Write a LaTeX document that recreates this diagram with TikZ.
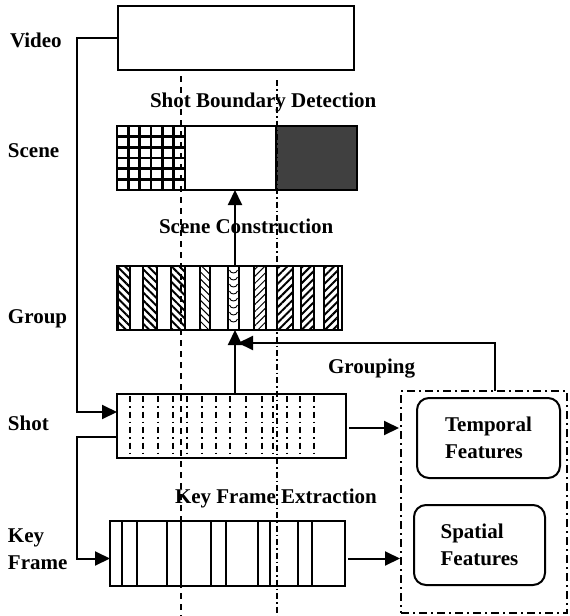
\documentclass[tikz,border=0pt]{standalone}
\usepackage{fontspec}
\setmainfont{Liberation Serif}
\usetikzlibrary{arrows.meta,patterns.meta,calc}
\begin{document}
\begin{tikzpicture}[x=1pt,y=-1pt,
  box/.style={draw,line width=2pt,inner sep=0pt,outer sep=0pt},
  lbl/.style={font=\fontsize{21}{27}\selectfont\bfseries,inner sep=0pt,outer sep=0pt,anchor=base west,align=left},
  arr/.style={line width=2pt,-{Triangle[length=15pt,width=14pt]}},
  conn/.style={line width=2pt},
  rbox/.style={draw,line width=2pt,rounded corners=12pt,inner sep=0pt,outer sep=0pt,align=left,font=\fontsize{21}{27}\selectfont\bfseries},
  dashbox/.style={draw,line width=2pt,inner sep=0pt,outer sep=0pt,dash pattern=on 8pt off 4pt on 2pt off 4pt},
  guideA/.style={line width=1.3pt,dash pattern=on 6pt off 5pt},
  guideB/.style={line width=1.3pt,dash pattern=on 6pt off 3pt on 1.5pt off 3pt},
  shotline/.style={line width=1.4pt,dash pattern=on 6pt off 4pt on 1.5pt off 4pt},
  keyline/.style={line width=1.3pt},
  hatchA/.style={pattern={Lines[angle=-45,distance=5.5pt,line width=2pt]}},
  hatchB/.style={pattern={Lines[angle=-45,distance=5pt,line width=1pt]}},
  hatchC/.style={pattern={Lines[angle=45,distance=5pt,line width=1pt]}},
  hatchD/.style={pattern={Lines[angle=45,distance=5.5pt,line width=2pt]}},
  stripe/.style={draw,line width=1.3pt}
]
\useasboundingbox (0,0) rectangle (570,616);

% ---------- Scene box contents ----------
\foreach \k in {0,...,6} {
  \draw[line width=2.8pt] (117+\k*11.33,126) -- (117+\k*11.33,190);
  \draw[line width=2.8pt] (117,126+\k*10.67) -- (185,126+\k*10.67);
}
\fill[black!75] (276,126) rectangle (357,190);
\draw[line width=2pt] (185,126) -- (185,190);
\draw[line width=2pt] (276,126) -- (276,190);

% ---------- Group box contents ----------
\foreach \a/\b in {118/130,143/157,171/185}
  \draw[stripe,hatchA] (\a,266) rectangle (\b,330);
\draw[stripe,hatchB] (200,266) rectangle (210,330);
\draw[stripe] (228,266) rectangle (239,330);
\foreach \y in {270,277,...,322}
  \draw[line width=0.9pt] (229.5,\y) .. controls (230.5,\y+4) and (236.5,\y+4) .. (237.5,\y);
\draw[stripe,hatchC] (254,266) rectangle (266,330);
\foreach \a/\b in {277/293,301/314,324/338}
  \draw[stripe,hatchD] (\a,266) rectangle (\b,330);

% ---------- Shot box contents ----------
\foreach \x in {130,143,158,173,187,202,216,230,246,262,273,287,300,314}
  \draw[shotline] (\x,396) -- (\x,458);

% ---------- Key frame box contents ----------
\foreach \x in {122,137,167,181,211,226,258,270,298,312}
  \draw[keyline] (\x,521) -- (\x,586);

% ---------- main boxes ----------
\node[box,minimum width=236,minimum height=64] (video) at (236,38) {};
\node[box,minimum width=240,minimum height=64] (scene) at (237,158) {};
\node[box,minimum width=225,minimum height=64] (group) at (229.5,298) {};
\node[box,minimum width=229,minimum height=64] (shot) at (231.5,426) {};
\node[box,minimum width=235,minimum height=65] (key) at (227.5,553.5) {};

\node[dashbox,minimum width=166,minimum height=222] (feat) at (484,502) {};
\node[rbox,minimum width=143,minimum height=80] (temporal) at (488.5,438) {Temporal\\Features};
\node[rbox,minimum width=131,minimum height=80] (spatial) at (479.5,545) {Spatial\\Features};

% ---------- guide lines ----------
\draw[guideA] (181,76) -- (181,616);
\draw[guideB] (277,80) -- (277,616);

% ---------- labels ----------
\node[lbl] (lvideo) at (10,47) {Video};
\node[lbl] (lsbd) at (150,107) {Shot Boundary Detection};
\node[lbl] (lscene) at (8,157) {Scene};
\node[lbl] (lsc) at (159,233) {Scene Construction};
\node[lbl] (lgroup) at (8,323) {Group};
\node[lbl] (lgrouping) at (328,373) {Grouping};
\node[lbl] (lshot) at (8,430) {Shot};
\node[lbl] (lkey) at (8,569) {Key\\Frame};
\node[lbl] (lkfe) at (175,503) {Key Frame Extraction};

% ---------- connectors ----------
\draw[arr] (video.west) -- ++(-41,0) |- ([yshift=14pt]shot.west);
\draw[arr] ([yshift=-11pt]shot.west) -- ++(-40,0) |- ([yshift=-5pt]key.west);
\draw[arr] ([xshift=3pt,yshift=-2pt]shot.east) -- ([xshift=-2pt,yshift=-2pt]shot.east -| feat.west);
\draw[arr] ([xshift=3pt,yshift=-5pt]key.east) -- ([xshift=-1pt,yshift=-5pt]key.east -| feat.west);
\draw[arr] ([xshift=3.5pt]shot.north) -- ([xshift=5.5pt]group.south);
\draw[arr] ([xshift=5.5pt]group.north) -- ([xshift=-2pt]scene.south);
\draw[arr] ([xshift=11pt]feat.north) |- ([xshift=8.5pt,yshift=-13pt]group.south);
\end{tikzpicture}
\end{document}
